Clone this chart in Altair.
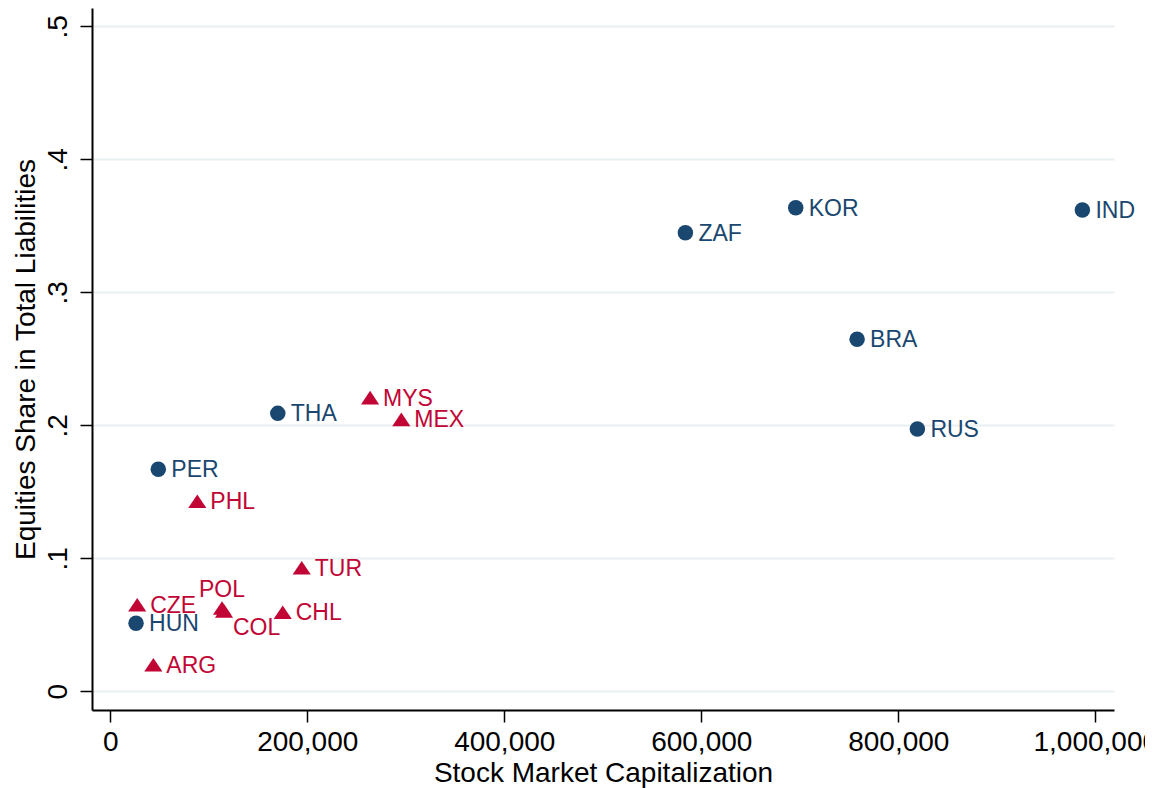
import altair as alt
import pandas as pd

countries = ["HUN", "CZE", "ARG", "POL", "COL", "CHL", "TUR", "THA", "MYS",
             "MEX", "PER", "PHL", "ZAF", "KOR", "IND", "BRA", "RUS"]
market_cap = [26200, 27400, 43800, 113500, 115500, 175100, 194400, 170100, 263800,
              295500, 48800, 88400, 583900, 695900, 986900, 758200, 819400]
equity_share = [0.0511, 0.0651, 0.0200, 0.0626, 0.0604, 0.0594, 0.0929, 0.2090, 0.2208,
                0.2045, 0.1669, 0.1429, 0.3448, 0.3636, 0.3619, 0.2647, 0.1972]
groups = ["Group 1", "Group 2", "Group 2", "Group 2", "Group 2", "Group 2", "Group 2",
          "Group 1", "Group 2", "Group 2", "Group 1", "Group 2", "Group 1", "Group 1",
          "Group 1", "Group 1", "Group 1"]

x_ticks = [0, 200000, 400000, 600000, 800000, 1000000]
y_ticks = [0, 0.1, 0.2, 0.3, 0.4, 0.5]

df = pd.DataFrame({"country": countries, "cap": market_cap,
                   "share": equity_share, "group": groups})

FONT = "Liberation Sans"
BLUE = "#1a476f"
RED = "#c10534"

x = alt.X("cap:Q",
          scale=alt.Scale(domain=[-18500, 1019000], nice=False, zero=False),
          axis=alt.Axis(values=x_ticks, format=",d", title="Stock Market Capitalization",
                        grid=False, labelPadding=6, titlePadding=3))
y = alt.Y("share:Q",
          scale=alt.Scale(domain=[-0.01406, 0.5138], nice=False, zero=False),
          axis=alt.Axis(values=y_ticks,
                        labelExpr="datum.value == 0 ? '0' : substring(format(datum.value, '.1f'), 1)",
                        title="Equities Share in Total Liabilities", grid=True,
                        labelAngle=270, labelAlign="center", labelBaseline="bottom",
                        labelPadding=8, titlePadding=4))
color = alt.Color("group:N", scale=alt.Scale(domain=["Group 1", "Group 2"], range=[BLUE, RED]),
                  legend=None)

base = alt.Chart(df)

points = base.mark_point(filled=True, opacity=1, strokeWidth=0).encode(
    x=x, y=y, color=color,
    shape=alt.Shape("group:N", scale=alt.Scale(domain=["Group 1", "Group 2"],
                                               range=["circle", "M0,-0.75L1,0.75L-1,0.75Z"]),
                    legend=None),
    size=alt.Size("group:N", scale=alt.Scale(domain=["Group 1", "Group 2"], range=[240, 330]),
                  legend=None),
)

labels_std = base.transform_filter(
    "datum.country != 'POL' && datum.country != 'COL'"
).mark_text(align="left", baseline="middle", dx=13, dy=1, font=FONT, fontSize=23).encode(
    x=x, y=y, color=color, text="country:N")

label_pol = base.transform_filter("datum.country == 'POL'").mark_text(
    align="center", baseline="middle", dy=-18, font=FONT, fontSize=23).encode(
    x=x, y=y, color=color, text="country:N")

label_col = base.transform_filter("datum.country == 'COL'").mark_text(
    align="left", baseline="middle", dx=9, dy=17, font=FONT, fontSize=23).encode(
    x=x, y=y, color=color, text="country:N")

chart = alt.layer(points, labels_std, label_pol, label_col).properties(
    width=1022, height=702,
    autosize=alt.AutoSizeParams(type="none"),
    padding={"left": 84, "top": 0, "right": 31, "bottom": 78},
    background="white",
).configure_view(stroke=None).configure_axis(
    labelFont=FONT, titleFont=FONT, labelFontSize=28, titleFontSize=28,
    titleFontWeight="normal", labelColor="#000000", titleColor="#000000",
    domainColor="#000000", domainWidth=2, tickColor="#000000", tickWidth=1.5,
    tickSize=12, gridColor="#e9f0f2", gridWidth=2,
)

chart.save("out.html", embed_options={"renderer": "svg", "actions": False})
